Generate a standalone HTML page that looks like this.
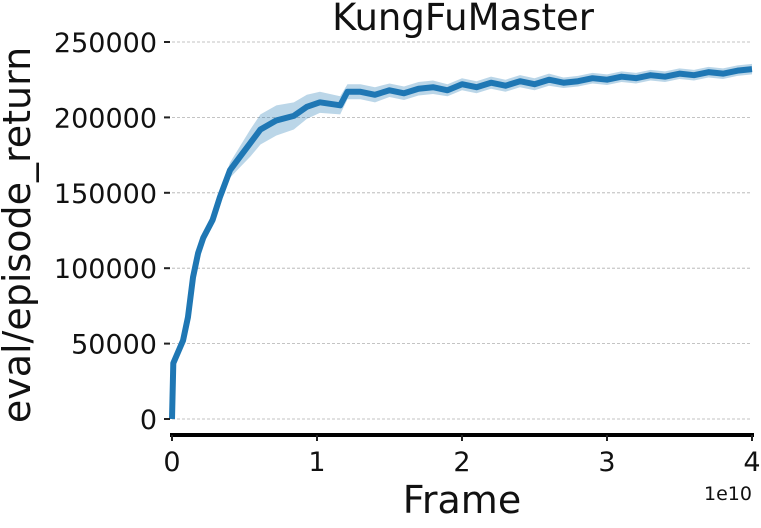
<!DOCTYPE html>
<html><head><meta charset="utf-8"><style>
body{margin:0;background:#fff;width:761px;height:523px;overflow:hidden;font-family:"Liberation Sans","DejaVu Sans",sans-serif}
</style></head><body>
<svg id="chart" width="761" height="523" xmlns="http://www.w3.org/2000/svg" font-family="DejaVu Sans, Liberation Sans, sans-serif">
<text x="463" y="30" font-size="37" text-anchor="middle" fill="#111">KungFuMaster</text>
<text transform="translate(30,235) rotate(-90)" font-size="38" text-anchor="middle" fill="#111">eval/episode_return</text>
<text x="462" y="513" font-size="38" text-anchor="middle" fill="#111">Frame</text>
<text x="752" y="500" font-size="19" text-anchor="end" fill="#111">1e10</text>
<g id="grid"></g><g id="band"></g><g id="line"></g><g id="axes"></g>
</svg>
<script>
const xTicks=[0,1,2,3,4];
const yTicks=[0,50000,100000,150000,200000,250000];
const xs=[0,0.009,0.076,0.11,0.145,0.18,0.215,0.28,0.33,0.4,0.47,0.54,0.61,0.72,0.84,0.93,1.02,1.16,1.21,1.3,1.4,1.5,1.6,1.7,1.8,1.9,2.0,2.1,2.2,2.3,2.4,2.5,2.6,2.7,2.8,2.9,3.0,3.1,3.2,3.3,3.4,3.5,3.6,3.7,3.8,3.9,4.0];
const ys=[0,37000,52000,67500,94000,110000,120000,132000,147000,165000,174000,183000,192000,198000,201000,207000,210000,208000,217000,217000,215000,218000,216000,219000,220000,218000,222000,220000,223000,221000,224000,222000,225000,223000,224000,226000,225000,227000,226000,228000,227000,229000,228000,230000,229000,231000,232000];
const spread=[0,1500,2000,2000,2500,3000,3000,3500,4000,5000,7000,9000,10000,10000,9000,8000,7000,6000,5000,5000,5000,4500,4500,4500,4500,4000,4000,4000,4000,4000,4000,4000,4000,3500,3500,3500,3500,3500,3500,3500,3500,3500,3500,3500,3500,3500,3500];
const X=v=>172+v*145, Y=v=>419-v*75.4/50000;
const ns="http://www.w3.org/2000/svg";
function mk(t,a,p){const e=document.createElementNS(ns,t);for(const k in a)e.setAttribute(k,a[k]);p.appendChild(e);return e;}
const grid=document.getElementById('grid'),axes=document.getElementById('axes');
yTicks.forEach(v=>{
 const g=mk('line',{x1:172,x2:752,y1:Y(v),y2:Y(v),stroke:'#b0b0b0','stroke-width':0.8,'stroke-dasharray':'3,2'},grid);
 
 
 const t=mk('line',{x1:164,x2:170,y1:Y(v),y2:Y(v),stroke:'#222','stroke-width':2},axes);
 
 
 const l=mk('text',{x:157,y:Y(v)+10,'font-size':27,'text-anchor':'end',fill:'#111'},axes);l.textContent=v;
 
 
});
const ax=mk('line',{x1:170,x2:754,y1:435,y2:435,stroke:'#000','stroke-width':4},axes);


xTicks.forEach(v=>{
 const t=mk('line',{x1:X(v),x2:X(v),y1:435,y2:441,stroke:'#222','stroke-width':2},axes);
 
 
 const l=mk('text',{x:X(v),y:471,'font-size':27,'text-anchor':'middle',fill:'#111'},axes);l.textContent=v;
 
 
});
let up=xs.map((x,i)=>X(x)+','+Y(ys[i]+spread[i])).join(' ');
let lo=xs.map((x,i)=>X(x)+','+Y(ys[i]-spread[i])).reverse().join(' ');
const b=mk('polygon',{points:up+' '+lo,fill:'#1f77b4','fill-opacity':0.3},document.getElementById('band'));


const p=mk('polyline',{points:xs.map((x,i)=>X(x)+','+Y(ys[i])).join(' '),fill:'none',stroke:'#1f77b4','stroke-width':6,'stroke-linejoin':'round'},document.getElementById('line'));


</script>
</body></html>
